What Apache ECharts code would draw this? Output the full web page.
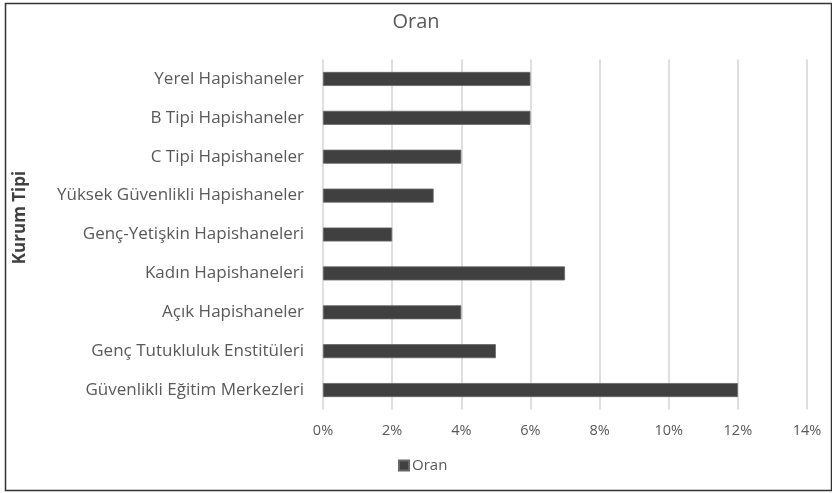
<!DOCTYPE html>
<html>
<head>
<meta charset="utf-8">
<script src="https://cdn.jsdelivr.net/npm/echarts@6/dist/echarts.min.js"></script>
<style>
html,body{margin:0;padding:0;background:#fff;}
#c{width:832px;height:493px;}
</style>
</head>
<body>
<div id="c"></div>
<script>
const categories = [
  'Yerel Hapishaneler',
  'B Tipi Hapishaneler',
  'C Tipi Hapishaneler',
  'Yüksek Güvenlikli Hapishaneler',
  'Genç-Yetişkin Hapishaneleri',
  'Kadın Hapishaneleri',
  'Açık Hapishaneler',
  'Genç Tutukluluk Enstitüleri',
  'Güvenlikli Eğitim Merkezleri'
];
const oranValues = [6, 6, 4, 3.2, 2, 7, 4, 5, 12];
const xTicks = { min: 0, max: 14, interval: 2 };

const FONT = 'Open Sans';
const chart = echarts.init(document.getElementById('c'));
chart.setOption({
  animation: false,
  backgroundColor: '#fff',
  title: {
    text: 'Oran',
    left: 'center',
    top: 7,
    textStyle: { fontFamily: FONT, fontSize: 20, fontWeight: 'normal', color: '#595959' }
  },
  legend: {
    bottom: 15,
    left: 393,
    itemWidth: 10,
    itemHeight: 10,
    itemGap: 4,
    icon: 'rect',
    textStyle: { fontFamily: FONT, fontSize: 15, color: '#595959', padding: [0, 0, 0, -2] },
    data: ['Oran']
  },
  grid: { left: 323, right: 25, top: 59.5, bottom: 83.5, containLabel: false },
  xAxis: {
    type: 'value',
    min: xTicks.min,
    max: xTicks.max,
    interval: xTicks.interval,
    axisLine: { show: false },
    axisTick: { show: false },
    axisLabel: {
      formatter: v => v + '%',
      fontFamily: FONT, fontSize: 14.5, color: '#595959', margin: 14
    },
    splitLine: { show: true, lineStyle: { color: '#d4d4d4', width: 1.5 } }
  },
  yAxis: {
    type: 'category',
    data: categories,
    inverse: true,
    name: 'Kurum Tipi',
    nameLocation: 'middle',
    nameRotate: 90,
    nameGap: 294,
    nameTextStyle: { fontFamily: FONT, fontSize: 17, fontWeight: 'bold', color: '#404040', padding: [0, 0, 0, 34] },
    axisLine: { show: false },
    axisTick: { show: false },
    axisLabel: { fontFamily: FONT, fontSize: 17, color: '#595959', margin: 19 }
  },
  series: [{
    name: 'Oran',
    type: 'bar',
    data: oranValues,
    barWidth: 14,
    itemStyle: { color: '#404040', borderColor: '#666', borderWidth: 0.8 }
  }],
  graphic: [{
    type: 'rect',
    shape: { x: 5.5, y: 3.5, width: 826, height: 487 },
    style: { fill: 'none', stroke: '#333', lineWidth: 1.5 },
    silent: true
  }]
});
</script>
</body>
</html>
